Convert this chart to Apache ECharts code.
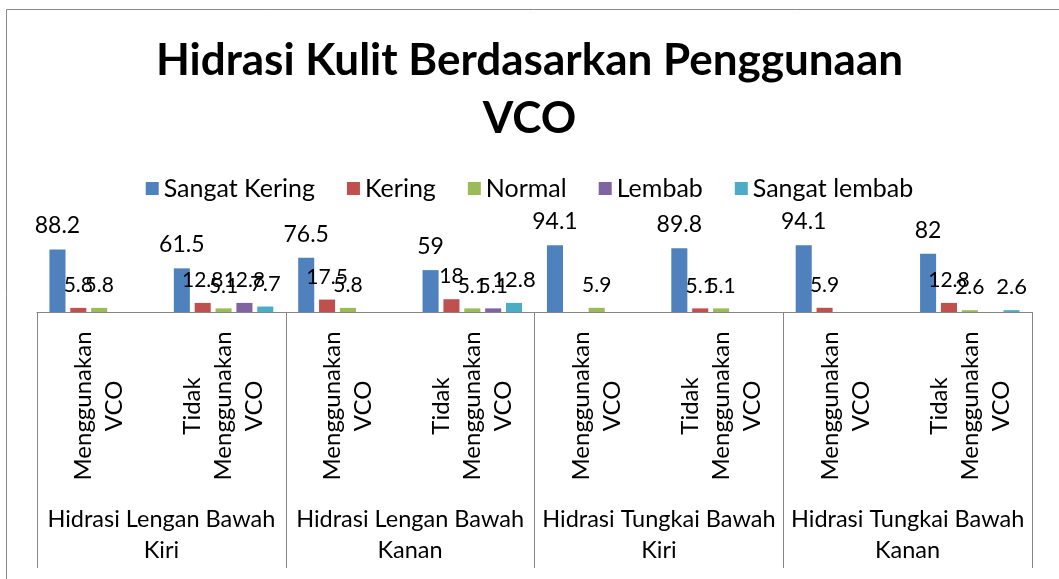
<!DOCTYPE html>
<html>
<head>
<meta charset="utf-8">
<script src="https://cdn.jsdelivr.net/npm/echarts@6/dist/echarts.min.js"></script>
<style>
html, body { margin: 0; padding: 0; background: #fff; }
#chart { width: 1059px; height: 579px; }
</style>
</head>
<body>
<div id="chart"></div>
<script>
// data
let categories = [
  'Menggunakan\nVCO', 'Tidak\nMenggunakan\nVCO',
  'Menggunakan\nVCO', 'Tidak\nMenggunakan\nVCO',
  'Menggunakan\nVCO', 'Tidak\nMenggunakan\nVCO',
  'Menggunakan\nVCO', 'Tidak\nMenggunakan\nVCO'
];
let groups = [
  'Hidrasi Lengan Bawah\nKiri',
  'Hidrasi Lengan Bawah\nKanan',
  'Hidrasi Tungkai Bawah\nKiri',
  'Hidrasi Tungkai Bawah\nKanan'
];
let seriesNames = ['Sangat Kering', 'Kering', 'Normal', 'Lembab', 'Sangat lembab'];
let sangatKering = [88.2, 61.5, 76.5, 59, 94.1, 89.8, 94.1, 82];
let kering = [5.8, 12.8, 17.5, 18, null, 5.1, 5.9, 12.8];
let normal = [5.8, 5.1, 5.8, 5.1, 5.9, 5.1, null, 2.6];
let lembab = [null, 12.8, null, 5.1, null, null, null, null];
let sangatLembab = [null, 7.7, null, 12.8, null, null, null, 2.6];

let values = [sangatKering, kering, normal, lembab, sangatLembab];
let colors = ['#4F81BD', '#C0504D', '#9BBB59', '#8064A2', '#4BACC6'];
let labelSizes = [23, 21, 21, 21, 22];
let font = 'Lato';

let chart = echarts.init(document.getElementById('chart'));

let series = seriesNames.map(function (name, i) {
  return {
    name: name,
    type: 'bar',
    data: values[i],
    barGap: '30%',
    barCategoryGap: '20%',
    itemStyle: { color: colors[i] },
    label: {
      show: true,
      position: 'top',
      distance: 12,
      padding: [0, 5],
      color: '#000',
      fontFamily: font,
      fontSize: labelSizes[i]
    },
    // excel pushes clashing labels sideways
    labelLayout: { moveOverlap: 'shiftX' }
  };
});

chart.setOption({
  animation: false,
  textStyle: { fontFamily: font },
  title: {
    text: 'Hidrasi Kulit Berdasarkan Penggunaan\nVCO',
    left: 'center',
    top: 27,
    textStyle: {
      fontFamily: font,
      fontSize: 44,
      fontWeight: 'bold',
      lineHeight: 58,
      color: '#000'
    }
  },
  legend: {
    data: seriesNames,
    top: 171,
    left: 'center',
    icon: 'rect',
    itemWidth: 13,
    itemHeight: 13,
    itemGap: 32,
    textStyle: { fontFamily: font, fontSize: 25, color: '#000' }
  },
  graphic: [{
    type: 'rect',
    left: 4, top: 7,
    shape: { width: 1100, height: 700 },
    style: { fill: null, stroke: '#898989', lineWidth: 1 },
    silent: true
  }],
  grid: { left: 37, right: 27, top: 241, bottom: 267 },
  xAxis: [
    {
      type: 'category',
      data: categories,
      axisLine: { lineStyle: { color: '#868686' } },
      axisTick: { show: false },
      axisLabel: {
        interval: 0,
        rotate: 90,
        align: 'center',
        margin: 94,
        fontFamily: font,
        fontSize: 24,
        lineHeight: 31,
        color: '#000'
      }
    },
    {
      type: 'category',
      data: groups,
      position: 'bottom',
      axisLine: { show: false },
      axisTick: { show: true, length: 256, lineStyle: { color: '#868686' } },
      axisLabel: {
        interval: 0,
        margin: 192,
        fontFamily: font,
        fontSize: 23.5,
        lineHeight: 31,
        color: '#000'
      }
    }
  ],
  yAxis: { type: 'value', min: 0, max: 100, show: false },
  series: series
});
</script>
</body>
</html>
